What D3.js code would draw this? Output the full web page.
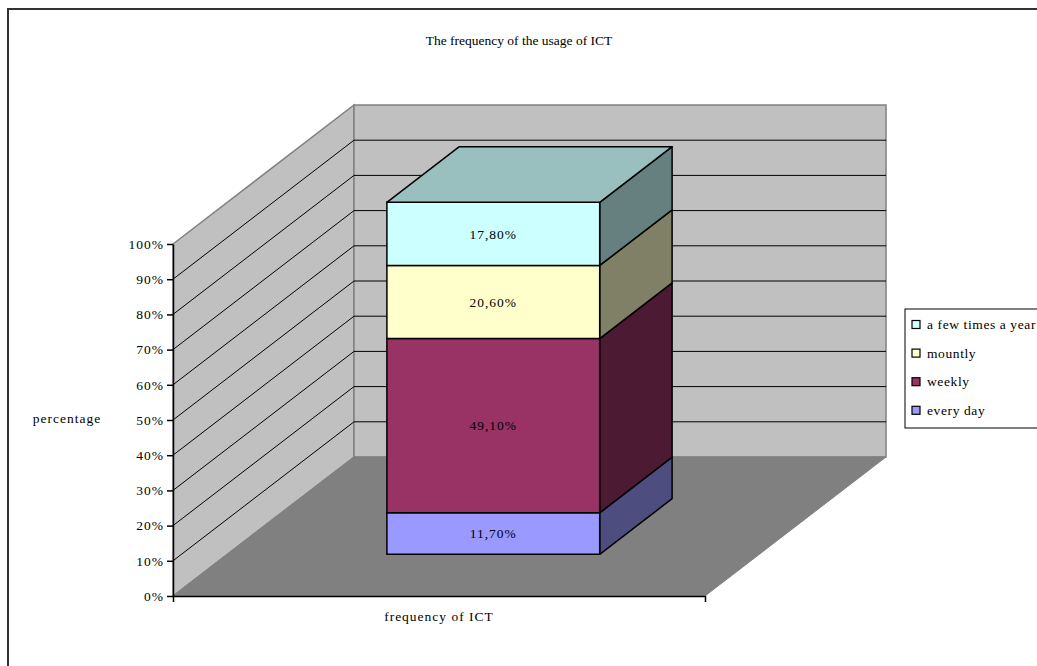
<!DOCTYPE html>
<meta charset="utf-8">
<style>
  body { margin: 0; background: #fff; }
  text { font-family: "Liberation Serif", "Times New Roman", serif; fill: #000; }
</style>
<script src="https://d3js.org/d3.v7.min.js"></script>
<div id="chart"></div>
<script>

// data
var categories = ["frequency of ICT"];
var seriesNames = ["every day", "weekly", "mountly", "a few times a year"];
var seriesValues = [11.7, 49.1, 20.6, 17.8];
var seriesLabels = ["11,70%", "49,10%", "20,60%", "17,80%"];
var seriesColors = ["#9999ff", "#993366", "#ffffcc", "#ccffff"];
var yTicks = [0, 0.1, 0.2, 0.3, 0.4, 0.5, 0.6, 0.7, 0.8, 0.9, 1];

var width = 1037, height = 666;

// 3d box of the plot: front plane + depth offset
var front = {left: 173, right: 705, top: 244, bottom: 596};
var depth = {dx: 181, dy: -139};
var barZ0 = 0.3, barZ1 = 0.7;   // bar sits in the middle of the depth
var barFrac = 0.4;              // bar width as share of the category band

var svg = d3.select("#chart").append("svg")
  .attr("width", width)
  .attr("height", height);

// outer chart border (only top and left are inside the picture)
svg.append("rect")
  .attr("x", 8).attr("y", 9)
  .attr("width", width + 20).attr("height", height + 20)
  .attr("fill", "none").attr("stroke", "#333").attr("stroke-width", 2);

var x = d3.scaleBand().domain(categories).range([front.left, front.right]).padding(0);
var y = d3.scaleLinear().domain([0, 1]).range([front.bottom, front.top]);

// project a point (front-plane x, value, depth 0..1)
function P(px, v, z) {
  return [px + z * depth.dx, y(v) + z * depth.dy];
}
function poly(pts) { return pts.map(function(p) { return p.join(","); }).join(" "); }

// side wall
svg.append("polygon")
  .attr("points", poly([P(front.left, 0, 0), P(front.left, 0, 1), P(front.left, 1, 1), P(front.left, 1, 0)]))
  .attr("fill", "#c0c0c0").attr("stroke", "#808080").attr("stroke-width", 1.5);

// back wall
svg.append("polygon")
  .attr("points", poly([P(front.left, 0, 1), P(front.right, 0, 1), P(front.right, 1, 1), P(front.left, 1, 1)]))
  .attr("fill", "#c0c0c0").attr("stroke", "#808080").attr("stroke-width", 1.5);

// floor
svg.append("polygon")
  .attr("points", poly([P(front.left, 0, 0), P(front.right, 0, 0), P(front.right, 0, 1), P(front.left, 0, 1)]))
  .attr("fill", "#808080").attr("stroke", "#808080");

// gridlines on side wall and back wall
var grid = yTicks.filter(function(t) { return t > 0 && t < 1; });
svg.append("g").selectAll("polyline")
  .data(grid)
  .enter().append("polyline")
    .attr("points", function(t) {
      return poly([P(front.left, t, 0), P(front.left, t, 1), P(front.right, t, 1)]);
    })
    .attr("fill", "none").attr("stroke", "#000").attr("stroke-width", 1);

// stacked (100%) bar
var total = d3.sum(seriesValues);
var stack = [], acc = 0;
seriesValues.forEach(function(v, i) {
  stack.push({name: seriesNames[i], label: seriesLabels[i], color: seriesColors[i], y0: acc / total, y1: (acc + v) / total});
  acc += v;
});

var bw = x.bandwidth() * barFrac;
var bx0 = x(categories[0]) + (x.bandwidth() - bw) / 2;
var bx1 = bx0 + bw;

var bars = svg.append("g");
stack.forEach(function(s) {
  var c = d3.rgb(s.color);
  var side = d3.rgb(c.r * 0.5, c.g * 0.5, c.b * 0.5);
  // right side face
  bars.append("polygon")
    .attr("points", poly([P(bx1, s.y0, barZ0), P(bx1, s.y0, barZ1), P(bx1, s.y1, barZ1), P(bx1, s.y1, barZ0)]))
    .attr("fill", side).attr("stroke", "#000").attr("stroke-width", 1.5).attr("stroke-linejoin", "round");
  // front face
  bars.append("polygon")
    .attr("points", poly([P(bx0, s.y0, barZ0), P(bx1, s.y0, barZ0), P(bx1, s.y1, barZ0), P(bx0, s.y1, barZ0)]))
    .attr("fill", c).attr("stroke", "#000").attr("stroke-width", 1.5);
});
// top face
var topS = stack[stack.length - 1];
var tc = d3.rgb(topS.color);
bars.append("polygon")
  .attr("points", poly([P(bx0, 1, barZ0), P(bx1, 1, barZ0), P(bx1, 1, barZ1), P(bx0, 1, barZ1)]))
  .attr("fill", d3.rgb(tc.r * 0.75, tc.g * 0.75, tc.b * 0.75))
  .attr("stroke", "#000").attr("stroke-width", 1.5).attr("stroke-linejoin", "round");

// data labels
bars.selectAll("text.lbl")
  .data(stack)
  .enter().append("text")
    .attr("class", "lbl")
    .attr("x", function(d) { return P((bx0 + bx1) / 2, 0, barZ0)[0]; })
    .attr("y", function(d) { return P(0, (d.y0 + d.y1) / 2, barZ0)[1]; })
    .attr("dy", "0.35em")
    .attr("text-anchor", "middle")
    .style("font-size", "13.5px")
    .style("letter-spacing", "1px")
    .text(function(d) { return d.label; });

// y axis
var yAxis = svg.append("g")
  .attr("transform", "translate(" + front.left + ",0)")
  .call(d3.axisLeft(y).tickValues(yTicks).tickFormat(d3.format(".0%")).tickSize(6).tickSizeOuter(0));
yAxis.select(".domain").attr("stroke", "#000").attr("stroke-width", 1.5);
yAxis.selectAll(".tick line").attr("stroke", "#000").attr("stroke-width", 1.5);
yAxis.selectAll(".tick text")
  .attr("x", -9)
  .style("font-family", "Liberation Serif, serif")
  .style("font-size", "13.5px")
  .style("letter-spacing", "1px")
  .attr("fill", "#000");

// x axis
var xAxis = svg.append("g")
  .attr("transform", "translate(0," + front.bottom + ")")
  .call(d3.axisBottom(x).tickSize(0).tickSizeOuter(6).tickPadding(15));
xAxis.select(".domain").attr("stroke", "#000").attr("stroke-width", 1.5);
xAxis.selectAll(".tick text")
  .style("font-family", "Liberation Serif, serif")
  .style("font-size", "13.5px")
  .style("letter-spacing", "1px")
  .attr("fill", "#000");

// titles
svg.append("text")
  .attr("x", 519).attr("y", 45)
  .attr("text-anchor", "middle")
  .style("font-size", "13.5px")
  .text("The frequency of the usage of ICT");

svg.append("text")
  .attr("x", 67).attr("y", 418)
  .attr("dy", "0.35em")
  .attr("text-anchor", "middle")
  .style("font-size", "13.5px")
  .style("letter-spacing", "1px")
  .text("percentage");

// legend
var legend = svg.append("g").attr("transform", "translate(905,309)");
legend.append("rect")
  .attr("width", 140).attr("height", 119)
  .attr("fill", "#fff").attr("stroke", "#000").attr("stroke-width", 1);
var items = legend.selectAll("g.item")
  .data(stack.slice().reverse())
  .enter().append("g")
    .attr("class", "item")
    .attr("transform", function(d, i) { return "translate(0," + (15.5 + i * 28.6) + ")"; });
items.append("rect")
  .attr("x", 7).attr("y", -4)
  .attr("width", 8).attr("height", 8)
  .attr("fill", function(d) { return d.color; })
  .attr("stroke", "#000").attr("stroke-width", 1.2);
items.append("text")
  .attr("x", 22).attr("dy", "0.35em")
  .style("font-size", "13.5px")
  .style("letter-spacing", "0.6px")
  .text(function(d) { return d.name; });

</script>
